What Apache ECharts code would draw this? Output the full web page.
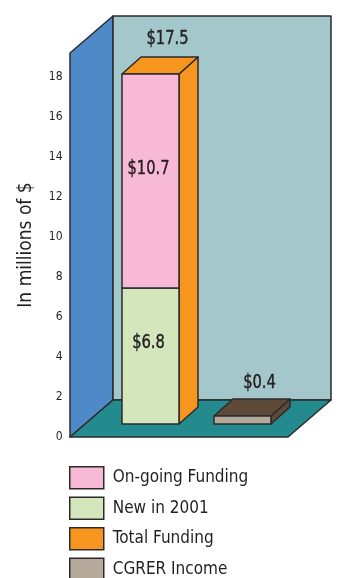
<!DOCTYPE html>
<html>
<head>
<meta charset="utf-8">
<script src="https://cdn.jsdelivr.net/npm/echarts@6/dist/echarts.min.js"></script>
<style>
  html, body { margin: 0; padding: 0; background: #fff; }
  #chart { width: 338px; height: 578px; }
</style>
</head>
<body>
<div id="chart"></div>
<script>
// data
const categories = ['Total', 'CGRER'];
const newIn2001 = [6.8, 0];
const ongoing = [10.7, 0];
const totalFunding = [17.5, 0];
const cgrerIncome = [0, 0.4];
const legendNames = ['On-going Funding', 'New in 2001', 'Total Funding', 'CGRER Income'];

// colours
const colors = {
    ongoing: '#F7B9D6',
    newIn2001: '#D4E7BC',
    total: '#F7961E',
    cgrerFront: '#B6AA9C',
    cgrerTop: '#5D4A37',
    leftWall: '#4F89C7',
    backWall: '#A3C7CA',
    floor: '#238A8D',
    edge: '#2b2b2b',
    text: '#231f20'
};

const FONT = '"DejaVu Sans Condensed", sans-serif';

// 3d look
const WALL_DX = 43, WALL_DY = -37;
const WALL_PAD_L = 19.5, WALL_PAD_R = 14.5;
const BAR_SHIFT_X = 15, BAR_SHIFT_Y = -13;
const BAR_DX = 19, BAR_DY = -17;
const BAR_W = 57;

function poly(points, fill) {
    return {
        type: 'polygon',
        shape: { points },
        style: { fill, stroke: colors.edge, lineWidth: 1.5, lineJoin: 'round' }
    };
}

// value label, squeezed a bit since the font is wider than the original one
function label(text, x, y) {
    return {
        type: 'text',
        x, y,
        scaleX: 0.86,
        style: {
            text, fill: colors.text, stroke: colors.text, lineWidth: 0.4,
            fontSize: 19, fontFamily: FONT,
            align: 'center', verticalAlign: 'middle'
        }
    };
}

// front face box of a bar segment
function front(api, i, v0, v1) {
    const cx = api.coord([i, 0])[0] + BAR_SHIFT_X;
    return {
        l: cx - BAR_W / 2,
        r: cx + BAR_W / 2,
        top: api.coord([i, v1])[1] + BAR_SHIFT_Y,
        bot: api.coord([i, v0])[1] + BAR_SHIFT_Y
    };
}

function sideAndTop(f, color) {
    return [
        poly([[f.r, f.top], [f.r + BAR_DX, f.top + BAR_DY], [f.r + BAR_DX, f.bot + BAR_DY], [f.r, f.bot]], color),
        poly([[f.l, f.top], [f.r, f.top], [f.r + BAR_DX, f.top + BAR_DY], [f.l + BAR_DX, f.top + BAR_DY]], color)
    ];
}

function renderWalls(params, api) {
    const cs = params.coordSys;
    const x0 = cs.x - WALL_PAD_L, x1 = cs.x + cs.width + WALL_PAD_R;
    const yt = cs.y, yb = cs.y + cs.height;
    return {
        type: 'group',
        children: [
            poly([[x0, yb], [x0, yt], [x0 + WALL_DX, yt + WALL_DY], [x0 + WALL_DX, yb + WALL_DY]], colors.leftWall),
            poly([[x0 + WALL_DX, yt + WALL_DY], [x1 + WALL_DX, yt + WALL_DY], [x1 + WALL_DX, yb + WALL_DY], [x0 + WALL_DX, yb + WALL_DY]], colors.backWall),
            poly([[x0, yb], [x1, yb], [x1 + WALL_DX, yb + WALL_DY], [x0 + WALL_DX, yb + WALL_DY]], colors.floor)
        ]
    };
}

function renderTotal(params, api) {
    const i = api.value(0), v = api.value(1);
    const f = front(api, i, 0, v);
    return {
        type: 'group',
        children: sideAndTop(f, colors.total).concat([
            label('$' + v, (f.l + f.r) / 2 + 17, f.top + BAR_DY - 18)
        ])
    };
}

function renderNew(params, api) {
    const i = api.value(0), v = api.value(1);
    const f = front(api, i, 0, v);
    return {
        type: 'group',
        children: [
            poly([[f.l, f.top], [f.r, f.top], [f.r, f.bot], [f.l, f.bot]], colors.newIn2001),
            label('$' + v, (f.l + f.r) / 2 - 2, (f.top + f.bot) / 2 - 13)
        ]
    };
}

function renderOngoing(params, api) {
    const i = api.value(0), v = api.value(1);
    const base = newIn2001[i];
    const f = front(api, i, base, base + v);
    return {
        type: 'group',
        children: [
            poly([[f.l, f.top], [f.r, f.top], [f.r, f.bot], [f.l, f.bot]], colors.ongoing),
            label('$' + v, (f.l + f.r) / 2 - 2, (f.top + f.bot) / 2 - 12)
        ]
    };
}

function renderCgrer(params, api) {
    const i = api.value(0), v = api.value(1);
    const f = front(api, i, 0, v);
    return {
        type: 'group',
        children: sideAndTop(f, colors.cgrerTop).concat([
            poly([[f.l, f.top], [f.r, f.top], [f.r, f.bot], [f.l, f.bot]], colors.cgrerFront),
            label('$' + v, (f.l + f.r) / 2 + 17, f.top + BAR_DY - 16)
        ])
    };
}

function pairs(arr) {
    return arr.map((v, i) => [i, v]).filter(d => d[1] > 0);
}

const chart = echarts.init(document.getElementById('chart'), null, { renderer: 'canvas' });

const option = {
    animation: false,
    backgroundColor: '#ffffff',
    grid: { left: 89.5, right: 64.5, top: 53, bottom: 141, outerBoundsMode: 'none' },
    legend: {
        data: legendNames,
        orient: 'vertical',
        left: 69,
        top: 466,
        height: 130,
        padding: 0,
        icon: 'rect',
        itemWidth: 34,
        itemHeight: 22,
        itemGap: 7,
        itemStyle: { borderColor: colors.edge, borderWidth: 1.5 },
        textStyle: { fontFamily: FONT, fontSize: 17, color: colors.text, padding: [0, 0, 0, 4] },
        selectedMode: false
    },
    xAxis: {
        type: 'category',
        data: categories,
        show: false
    },
    yAxis: {
        type: 'value',
        min: 0,
        max: 19.2,
        interval: 2,
        name: 'In millions of $',
        nameLocation: 'middle',
        nameRotate: 90,
        nameGap: 54,
        nameTextStyle: { fontFamily: FONT, fontSize: 19, color: colors.text },
        axisLine: { show: false },
        axisTick: { show: false },
        splitLine: { show: false },
        axisLabel: {
            margin: 27,
            fontFamily: FONT,
            fontSize: 12,
            color: colors.text,
            showMaxLabel: false,
            formatter: v => (v % 2 === 0 ? String(v) : '')
        }
    },
    series: [
        {
            type: 'custom',
            name: 'walls',
            renderItem: renderWalls,
            data: [[0, 0]],
            clip: false,
            silent: true,
            z: 1
        },
        {
            type: 'custom',
            name: 'Total Funding',
            renderItem: renderTotal,
            itemStyle: { color: colors.total },
            data: pairs(totalFunding),
            clip: false,
            z: 2
        },
        {
            type: 'custom',
            name: 'New in 2001',
            renderItem: renderNew,
            itemStyle: { color: colors.newIn2001 },
            data: pairs(newIn2001),
            clip: false,
            z: 3
        },
        {
            type: 'custom',
            name: 'On-going Funding',
            renderItem: renderOngoing,
            itemStyle: { color: colors.ongoing },
            data: pairs(ongoing),
            clip: false,
            z: 3
        },
        {
            type: 'custom',
            name: 'CGRER Income',
            renderItem: renderCgrer,
            itemStyle: { color: colors.cgrerFront },
            data: pairs(cgrerIncome),
            clip: false,
            z: 2
        }
    ]
};

chart.setOption(option);
</script>
</body>
</html>
